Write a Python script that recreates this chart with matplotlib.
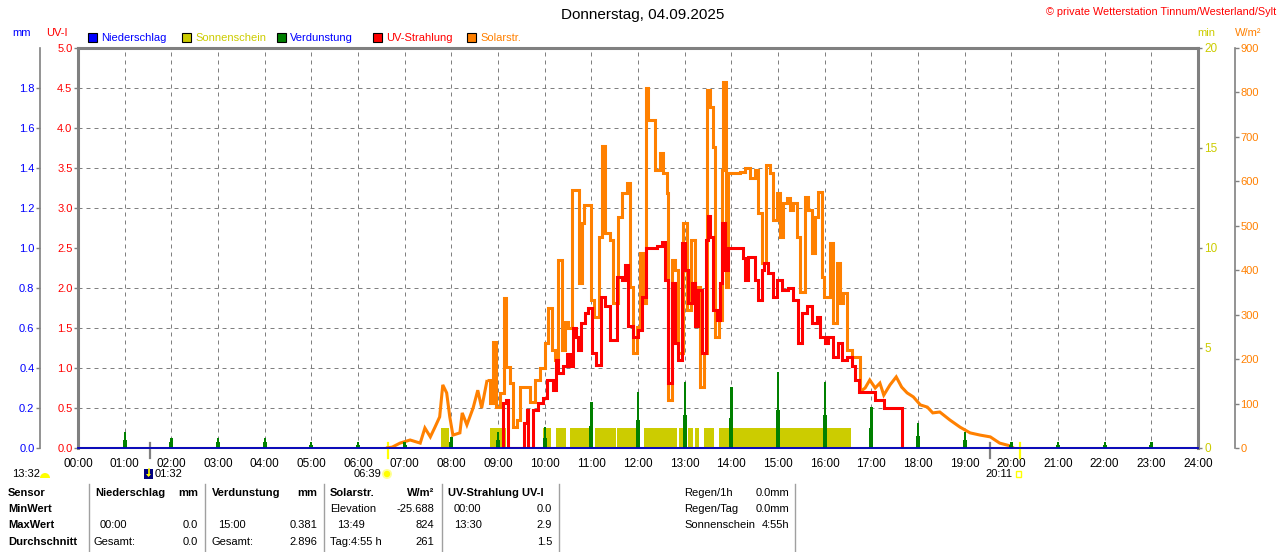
import numpy as np
import matplotlib
matplotlib.use("Agg")
import matplotlib.pyplot as plt
import matplotlib.patches as patches
import matplotlib.transforms as mtransforms
from matplotlib.lines import Line2D

plt.rcParams['font.family'] = ['Liberation Sans', 'DejaVu Sans']

# ---- data ----
solar_clock = [
    "06:36", "06:44", "06:54", "07:07", "07:20", "07:26", "07:33", "07:39", "07:45", "07:49",
    "07:54", "07:58", "08:02", "08:11", "08:14", "08:20", "08:28", "08:34", "08:39", "08:46",
    "08:50", "08:54", "08:57", "09:03", "09:08", "09:10", "09:15", "09:19", "09:24", "09:28",
    "09:37", "09:41", "09:48", "09:54", "10:00", "10:04", "10:09", "10:13", "10:17", "10:22",
    "10:26", "10:30", "10:35", "10:42", "10:44", "10:48", "10:51", "10:56", "11:00", "11:04",
    "11:10", "11:14", "11:18", "11:24", "11:28", "11:34", "11:39", "11:46", "11:50", "11:54",
    "11:59", "12:03", "12:06", "12:10", "12:13", "12:18", "12:22", "12:28", "12:32", "12:37",
    "12:39", "12:44", "12:48", "12:51", "12:58", "13:03", "13:08", "13:13", "13:20", "13:25",
    "13:29", "13:33", "13:36", "13:39", "13:44", "13:48", "13:49", "13:53", "13:56", "14:02",
    "14:11", "14:18", "14:24", "14:30", "14:34", "14:39", "14:45", "14:50", "14:54", "14:59",
    "15:03", "15:06", "15:12", "15:15", "15:19", "15:24", "15:28", "15:35", "15:39", "15:44",
    "15:48", "15:51", "15:57", "15:59", "16:07", "16:11", "16:16", "16:20", "16:24", "16:29",
    "16:35", "16:40", "16:45", "16:52", "16:58", "17:05", "17:11", "17:16", "17:24", "17:32",
    "17:39", "17:46", "17:54", "18:03", "18:12", "18:19", "18:28", "18:41", "18:54", "19:07",
    "19:20", "19:33", "19:45", "19:58", "20:03",
]
solar_wm2 = [
    0, 2, 11, 18, 11, 45, 25, 47, 70, 142,
    124, 70, 29, 34, 79, 52, 90, 130, 90, 153,
    101, 238, 92, 124, 337, 182, 146, 47, 63, 137,
    137, 104, 153, 180, 236, 315, 220, 198, 423, 220,
    283, 270, 580, 580, 371, 506, 546, 546, 333, 295,
    475, 680, 484, 468, 326, 520, 574, 596, 362, 214,
    272, 439, 326, 810, 738, 738, 625, 664, 619, 574,
    108, 423, 400, 214, 506, 310, 468, 362, 137, 214,
    805, 767, 677, 250, 288, 625, 824, 362, 619, 619,
    621, 630, 607, 625, 529, 416, 637, 619, 513, 574,
    475, 551, 562, 535, 551, 475, 350, 565, 535, 439,
    520, 576, 385, 340, 461, 281, 416, 326, 349, 220,
    205, 205, 126, 135, 153, 135, 146, 119, 142, 160,
    137, 124, 115, 97, 92, 79, 81, 63, 47, 34,
    29, 25, 11, 5, 0,
]

uv_clock = [
    "09:06", "09:07", "09:10", "09:13", "09:32", "09:33", "09:37", "09:39", "09:44", "09:45",
    "09:51", "09:58", "10:03", "10:07", "10:11", "10:15", "10:17", "10:24", "10:29", "10:33",
    "10:36", "10:40", "10:43", "10:47", "10:52", "10:56", "11:01", "11:06", "11:12", "11:18",
    "11:24", "11:33", "11:39", "11:43", "11:47", "11:54", "12:00", "12:05", "12:10", "12:18",
    "12:24", "12:31", "12:35", "12:39", "12:44", "12:48", "12:51", "12:57", "13:00", "13:04",
    "13:09", "13:13", "13:17", "13:22", "13:27", "13:30", "13:33", "13:36", "13:42", "13:45",
    "13:48", "13:52", "13:56", "14:11", "14:15", "14:18", "14:21", "14:28", "14:30", "14:34",
    "14:39", "14:42", "14:47", "14:54", "14:59", "15:05", "15:13", "15:19", "15:26", "15:31",
    "15:37", "15:44", "15:50", "15:54", "16:00", "16:04", "16:11", "16:17", "16:22", "16:29",
    "16:35", "16:39", "16:44", "17:02", "17:05", "17:15", "17:16", "17:39", "17:40",
]
uv_index = [
    0.0, 0.56, 0.6, 0.0, 0.0, 0.31, 0.47, 0.0, 0.0, 0.47,
    0.56, 0.62, 0.85, 0.85, 0.72, 1.1, 0.94, 1.02, 1.18, 1.02,
    1.5, 1.39, 1.22, 1.56, 1.69, 1.75, 1.19, 1.04, 1.89, 1.77,
    1.35, 2.14, 2.1, 2.29, 1.52, 1.39, 1.47, 1.89, 2.5, 2.5,
    2.52, 2.57, 2.1, 0.81, 2.06, 1.31, 1.1, 2.56, 2.23, 1.81,
    2.06, 1.52, 1.98, 1.19, 2.6, 2.9, 2.64, 1.73, 1.6, 2.06,
    2.81, 2.23, 2.5, 2.5, 2.37, 2.1, 2.39, 2.39, 2.1, 1.85,
    2.23, 2.31, 2.19, 1.89, 2.1, 1.98, 2.0, 1.85, 1.31, 1.69,
    1.77, 1.56, 1.64, 1.39, 1.31, 1.39, 1.14, 1.31, 1.1, 1.14,
    1.02, 0.85, 0.7, 0.7, 0.6, 0.6, 0.5, 0.5, 0.0,
]

sun_start = ["07:47", "08:50", "09:58", "10:15", "10:33", "11:05", "11:33",
             "12:08", "12:53", "13:04", "13:13", "13:25", "13:44"]
sun_end = ["07:57", "09:10", "10:08", "10:27", "10:58", "11:32", "11:57",
           "12:50", "13:02", "13:11", "13:18", "13:38", "16:34"]
sun_minutes = 1.0

evap_hour = list(range(1, 24))
evap_peak = [0.08, 0.05, 0.05, 0.05, 0.03, 0.03, 0.03, 0.055, 0.08, 0.105, 0.23, 0.28,
             0.33, 0.305, 0.381, 0.33, 0.205, 0.125, 0.08, 0.03, 0.03, 0.03, 0.03]
evap_base = [0.04, 0.03, 0.03, 0.03, 0.015, 0.015, 0.015, 0.03, 0.04, 0.05, 0.11, 0.14,
             0.165, 0.15, 0.19, 0.165, 0.1, 0.06, 0.04, 0.015, 0.015, 0.015, 0.015]

rain_hour = list(range(0, 25))
rain_mm = [0.0] * 25

moon_ticks = ["01:32", "19:32"]
sun_ticks = ["06:39", "20:11"]


def hours(t):
    h, m = t.split(":")
    return int(h) + int(m) / 60.0


W, H = 1280, 552
GRAY = "#808080"
YEL = "#cccc00"
ORANGE = "#ff8000"
RED = "#ff0000"
GREEN = "#008000"
BLUE = "#0000ff"

fig = plt.figure(figsize=(W / 100, H / 100), dpi=100)
fig.patch.set_facecolor("white")
# pixel coords (y down) -> figure
pix = mtransforms.Affine2D().scale(1.0 / W, -1.0 / H).translate(0, 1) + fig.transFigure


def ftext(x, y, s, **kw):
    kw.setdefault("fontsize", 8)
    kw.setdefault("va", "center")
    fig.text(x / W, 1 - y / H, s, **kw)


ax = fig.add_axes([78 / W, 1 - 448 / H, 1120 / W, 400 / H])
ax_w = ax.twinx()
ax_uv = ax.twinx()
ax_mm = ax.twinx()
ax.yaxis.tick_right()
ax.set_zorder(0)
ax_w.set_zorder(1)
ax_uv.set_zorder(2)
ax_mm.set_zorder(3)

for a in (ax, ax_w, ax_uv, ax_mm):
    for s in a.spines.values():
        s.set_visible(False)

for side in ("left", "top", "right"):
    ax.spines[side].set_visible(True)
    ax.spines[side].set_color(GRAY)
    ax.spines[side].set_linewidth(2.2)
ax.spines["bottom"].set_visible(True)
ax.spines["bottom"].set_color(GRAY)
ax.spines["bottom"].set_linewidth(1.5)

# x axis
ax.set_xlim(0, 24)
ax.set_xticks(range(0, 25))
ax.set_xticklabels(["%02d:00" % h for h in range(0, 25)])
ax.tick_params(axis="x", length=0, pad=7, labelsize=8.5, labelcolor="black")
ax.grid(axis="x", which="major", color=GRAY, lw=0.72, linestyle=(0, (4, 4)))

# sunshine (min) axis, right
ax.set_ylim(0, 20)
ax.set_yticks([0, 5, 10, 15, 20])
ax.set_yticks(np.arange(0, 21, 2), minor=True)
ax.tick_params(axis="y", which="major", direction="out", length=3, width=1,
               color=GRAY, labelcolor=YEL, labelsize=8.5, pad=1.5)
ax.tick_params(axis="y", which="minor", length=0)
ax.grid(axis="y", which="minor", color=GRAY, lw=0.72, linestyle=(0, (4, 4)))

# W/m2 axis, offset right
ax_w.set_ylim(0, 900)
ax_w.spines["right"].set_visible(True)
ax_w.spines["right"].set_position(("outward", 37 * 0.72))
ax_w.spines["right"].set_color(GRAY)
ax_w.spines["right"].set_linewidth(1.2)
ax_w.set_yticks(range(0, 901, 100))
ax_w.tick_params(axis="y", direction="out", length=3, width=1, color=GRAY,
                 labelcolor=ORANGE, labelsize=8, pad=1)

# UV axis, left
ax_uv.yaxis.tick_left()
ax_uv.set_ylim(0, 5)
ax_uv.set_yticks(np.arange(0, 5.01, 0.5))
ax_uv.set_yticklabels(["%.1f" % v for v in np.arange(0, 5.01, 0.5)])
ax_uv.tick_params(axis="y", direction="out", length=3, width=1, color=GRAY,
                  labelcolor=RED, labelsize=8, pad=1)

# mm axis, offset left
ax_mm.yaxis.tick_left()
ax_mm.set_ylim(0, 2)
ax_mm.spines["left"].set_visible(True)
ax_mm.spines["left"].set_position(("outward", 38 * 0.72))
ax_mm.spines["left"].set_color(GRAY)
ax_mm.spines["left"].set_linewidth(1.2)
ax_mm.set_yticks(np.arange(0, 1.81, 0.2))
ax_mm.set_yticklabels(["%.1f" % v for v in np.arange(0, 1.81, 0.2)])
ax_mm.tick_params(axis="y", direction="out", length=3, width=1, color=GRAY,
                  labelcolor=BLUE, labelsize=8, pad=1)

# series
s0 = np.array([hours(t) for t in sun_start])
s1 = np.array([hours(t) for t in sun_end])
ax.bar(s0, sun_minutes, width=s1 - s0, align="edge", color=YEL, lw=0, zorder=2)

# solar: smooth ramps at dawn/dusk, step-like (minute data) during the day
st = np.array([hours(t) for t in solar_clock])
sv = np.array(solar_wm2)
i0 = np.searchsorted(st, 8.75)
i1 = np.searchsorted(st, 16.7)
line_kw = dict(color=ORANGE, lw=2.2, solid_joinstyle="miter", solid_capstyle="butt")
ax_w.plot(st[:i0 + 1], sv[:i0 + 1], **line_kw)
ax_w.plot(st[i0:i1 + 1], sv[i0:i1 + 1], drawstyle="steps-post", **line_kw)
ax_w.plot(st[i1:], sv[i1:], **line_kw)

ax_uv.plot([hours(t) for t in uv_clock], uv_index, color=RED, lw=2.2,
           drawstyle="steps-post", solid_joinstyle="miter", solid_capstyle="butt")

ax_mm.bar(evap_hour, evap_base, width=0.09, color=GREEN, lw=0)
ax_mm.bar(evap_hour, evap_peak, width=0.05, color=GREEN, lw=0)
ax_mm.plot(rain_hour, rain_mm, color="#0000c0", lw=1.3, clip_on=False)

# moon / sun event ticks below the axis
xt = ax.get_xaxis_transform()
for t in moon_ticks:
    ax.plot([hours(t)] * 2, [-0.024, 0.012], transform=xt, clip_on=False,
            color=GRAY, lw=1.6, zorder=5)
for t in sun_ticks:
    ax.plot([hours(t)] * 2, [-0.024, 0.012], transform=xt, clip_on=False,
            color="#ffff00", lw=1.6, zorder=5)

# ---- texts ----
ftext(643, 15, "Donnerstag, 04.09.2025", fontsize=11, ha="center")
ftext(1276, 12, "\u00a9 private Wetterstation Tinnum/Westerland/Sylt",
      fontsize=7.8, ha="right", color=RED)
ftext(22, 33, "mm", ha="center", color=BLUE)
ftext(57, 33, "UV-I", ha="center", color=RED)
ftext(1206, 33, "min", ha="center", color=YEL)
ftext(1248, 33, "W/m\u00b2", ha="center", color=ORANGE)

legend = [(88, BLUE, "Niederschlag", BLUE), (182, YEL, "Sonnenschein", YEL),
          (277, GREEN, "Verdunstung", BLUE), (373, RED, "UV-Strahlung", RED),
          (467, ORANGE, "Solarstr.", ORANGE)]
for x0, fc, label, tc in legend:
    fig.patches.append(patches.Rectangle((x0, 33), 9, 9, transform=pix,
                                         facecolor=fc, edgecolor="black", lw=0.8))
    ftext(x0 + 13, 38, label, color=tc)

# event labels below axis
ftext(12, 474, "13:32")
fig.patches.append(patches.Wedge((45, 478), 5, 180, 360, transform=pix,
                                 facecolor="#ffff00", edgecolor="none"))
fig.patches.append(patches.Rectangle((144, 469), 9, 10, transform=pix,
                                     facecolor="#000080", edgecolor="none"))
fig.lines.append(Line2D([148.5, 148.5], [469, 475], transform=pix, color="#ffff00", lw=1.2))
fig.patches.append(patches.Polygon([(146, 474), (151, 474), (148.5, 477)], transform=pix,
                                   facecolor="#ffff00", edgecolor="none"))
ftext(155, 474, "01:32")
ftext(381, 474, "06:39", ha="right")
fig.patches.append(patches.Circle((387, 474), 5, transform=pix,
                                  facecolor="#ffff99", edgecolor="none"))
fig.patches.append(patches.Circle((387, 474), 3.2, transform=pix,
                                  facecolor="#ffff00", edgecolor="none"))
ftext(1012, 474, "20:11", ha="right")
fig.patches.append(patches.Rectangle((1016, 471), 5, 6, transform=pix,
                                     facecolor="none", edgecolor="#ffff00", lw=1))

# ---- summary table ----
for xv in (89, 205, 324, 442, 559, 795):
    fig.lines.append(Line2D([xv, xv], [484, 552], transform=pix, color="#a0a0a0", lw=1))

rows_y = [493, 509, 525, 542]
for y, s in zip(rows_y, ["Sensor", "MinWert", "MaxWert", "Durchschnitt"]):
    ftext(8, y, s, fontweight="bold")

ftext(95, 493, "Niederschlag", fontweight="bold")
ftext(198, 493, "mm", fontweight="bold", ha="right")
ftext(100, 525, "00:00")
ftext(198, 525, "0.0", ha="right")
ftext(94, 542, "Gesamt:")
ftext(198, 542, "0.0", ha="right")

ftext(212, 493, "Verdunstung", fontweight="bold")
ftext(317, 493, "mm", fontweight="bold", ha="right")
ftext(218, 525, "15:00")
ftext(317, 525, "0.381", ha="right")
ftext(212, 542, "Gesamt:")
ftext(317, 542, "2.896", ha="right")

ftext(330, 493, "Solarstr.", fontweight="bold")
ftext(434, 493, "W/m\u00b2", fontweight="bold", ha="right")
ftext(330, 509, "Elevation")
ftext(434, 509, "-25.688", ha="right")
ftext(337, 525, "13:49")
ftext(434, 525, "824", ha="right")
ftext(330, 542, "Tag:4:55 h")
ftext(434, 542, "261", ha="right")

ftext(448, 493, "UV-Strahlung UV-I", fontweight="bold")
ftext(454, 509, "00:00")
ftext(552, 509, "0.0", ha="right")
ftext(454, 525, "13:30")
ftext(552, 525, "2.9", ha="right")
ftext(552, 542, "1.5", ha="right")

for y, lab, val in zip(rows_y[:3], ["Regen/1h", "Regen/Tag", "Sonnenschein"],
                       ["0.0mm", "0.0mm", "4:55h"]):
    ftext(684, y, lab)
    ftext(789, y, val, ha="right")

fig.savefig("out.png", dpi=100)
